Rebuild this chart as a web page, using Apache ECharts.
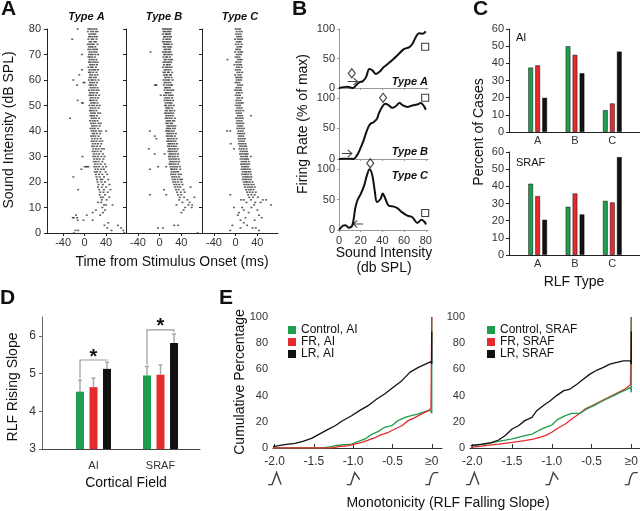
<!DOCTYPE html>
<html>
<head>
<meta charset="utf-8">
<script src="https://cdn.jsdelivr.net/npm/echarts@6/dist/echarts.min.js"></script>
<style>
  html, body { margin: 0; padding: 0; background: #fff; }
  #main { width: 640px; height: 511px; }
</style>
</head>
<body>
<div id="main"></div>
<script>
const FONT = '"Liberation Sans", Arial, sans-serif';
const GREEN = '#1f9e4f', RED = '#e52b2d', BLACK = '#111';

// ---- A: raster rows, [dB, spike times in ms ...]
const rasterA = [
  [80,-13,7,10,14,18,22],[79,6,12,16,21,24],[78,9,13,17,20],[77,8,11,15,19,23],
  [76,-23,7,13,16,22],[75,9,12,18,21],[74,6,10,14,17,24],[73,8,12,15,20],
  [72,7,11,16,19,23],[71,9,13,18,22],[70,-5,8,12,15,20,25],[69,7,10,14,19],
  [68,9,13,17,22],[67,8,11,16,20,24],[66,10,14,18,23],[65,7,12,15,21],
  [64,-5,9,13,17,20,25],[63,8,11,16,22],[62,-10,10,14,19,24],[61,9,12,17,21],
  [60,-21,8,13,15,20,26],[59,-2,0,10,14,18,23],[58,-14,9,12,16,21],[57,11,15,19,24],
  [56,8,13,17,22,26],[55,10,14,18,23],[54,9,12,16,21,27],[53,11,15,20,25],
  [52,-13,10,13,17,22],[51,-5,-3,12,16,19,24],[50,9,14,18,23,28],[49,11,15,20,26],
  [48,10,13,17,22],[47,12,16,19,25,29],[46,11,14,18,23],[45,-27,13,17,21,27],
  [44,10,15,19,24],[43,12,16,20,26,30],[42,14,18,22,28],[41,11,15,19,25],
  [40,13,17,21,27,31,40],[39,15,18,23,29],[38,12,16,20,26],[37,14,19,24,30],
  [36,13,17,22,28,33],[35,15,20,25,31],[34,14,18,23,29],[33,16,21,26,32,36],
  [32,15,19,24,30],[31,17,22,27,34],[30,-4,16,20,25,31,37],[29,18,23,28,35],
  [28,17,21,26,33],[27,19,24,30,38],[26,0,3,5,7,18,22,27,34,40],[25,-6,20,25,31,36],
  [24,19,23,29,39],[23,21,27,33,42],[22,-21,22,28,36],[21,23,30,33,44],
  [20,24,31,38],[19,26,34,46],[18,25,32,40],[17,-12,27,36,48],[16,29,35,43],
  [15,28,38],[14,30,34,46],[13,32,41],[12,25,31],[11,36,40,52],[10,33],
  [9,21,38],[8,15,34],[7,-16,4,29],[6,-22,-20,-14],[5,-13,-2,15],[4,44],
  [3,37,62],[2,42,68],[1,-17,-12,50,72],[0,-20,74]
];
const rasterB = [
  [80,6,9,12,15,18,21],[79,7,10,14,17,20],[78,6,11,13,16,19],[77,8,10,14,18,21],
  [76,7,12,15,19],[75,6,9,13,16,20],[74,8,11,14,17,22],[73,7,10,15,18,21],
  [72,9,12,16,19],[71,-17,6,10,13,17,20],[70,8,11,15,18,22],[69,7,12,14,19],
  [68,9,11,16,20,23],[67,7,10,14,17,21],[66,8,13,15,19],[65,6,11,14,18,22],
  [64,9,12,16,20],[63,7,10,15,17,23],[62,8,12,14,19,21],[61,10,13,17,22],
  [60,7,11,15,18,24],[59,9,12,16,20],[58,-9,-7,-6,8,13,17,21,23],[57,10,12,15,19],
  [56,9,14,18,22,25],[55,11,13,16,20],[54,2,8,12,17,21,24],[53,10,14,18,23],
  [52,9,13,16,20,25],[51,11,15,19,22],[50,10,12,17,21,26],[49,12,15,18,23],
  [48,11,14,19,22,27],[47,10,13,17,21,25],[46,12,16,20,24],[45,11,14,18,22,28],
  [44,13,16,19,24,27],[43,12,15,20,23],[42,14,17,21,25,29],[41,13,16,19,24,28],
  [40,-18,12,15,18,22,26],[39,14,17,21,25,30],[38,-9,13,16,20,23,28],[37,-6,15,18,22,26,31],
  [36,14,17,21,25,29],[35,16,19,23,27,32],[34,15,18,22,26,30],[33,-20,17,20,24,28,33],
  [32,16,19,23,27,31],[31,-9,9,18,21,25,29,34],[30,17,20,24,28,33],[29,18,22,26,30,35],
  [28,19,23,27,31,36],[27,18,21,25,29,34],[26,-3,12,20,24,28,32,37],[25,-18,21,23,27,31,38],
  [24,22,26,30,34],[23,21,25,29,35,39],[22,23,27,31,36],[21,24,28,33,38,41],
  [20,25,29,34,40],[19,27,31,36,42],[18,28,33,38,57],[17,8,30,35,44],
  [16,32,39,46],[15,-18,12,34,40],[14,37,45,64],[13,36,51],[12,42,55],
  [11,31,53,60],[10,47,59],[9,44],[8,40],[3,27,34],[2,-3,6],[0,70]
];
const rasterC = [
  [80,0,4,8],[79,2,7,11],[78,1,5,9],[77,3,6,10],[76,-1,4,8,12],[75,2,6,9],
  [74,0,5,11],[73,3,7,10],[72,1,4,8],[71,-1,5,9,12],[70,2,6,10],[69,0,3,7],
  [68,-15,4,8,11],[67,1,5,9],[66,-2,3,7,10],[65,2,6,11],[64,0,4,8],[63,3,7,12],
  [62,-1,5,9],[61,1,4,8,11],[60,2,6,10],[59,0,3,7],[58,4,8,12],[57,1,5,9],
  [56,-1,3,7,10],[55,2,6,11],[54,0,4,8],[53,3,7,12],[52,1,5,9],[51,2,6,10,13],
  [50,0,4,8],[49,3,7,11],[48,1,5,9,14],[47,2,6,10],[46,4,8,12,28],[45,1,5,9,13],
  [44,3,7,11],[43,2,6,10,14],[42,4,8,12],[41,3,7,11,15],[40,-16,-10,5,9,13],[39,4,8,12,16],
  [38,6,10,14],[37,5,9,13,17],[36,7,11,15],[35,-9,6,10,14,18],[34,8,12,16,19],[33,-3,7,11,15,20],
  [32,9,13,17,21],[31,8,12,16,19,22],[30,10,14,18,21,28],[29,9,13,17,20,23],[28,11,15,19,24],
  [27,10,14,17,21,25],[26,12,16,19,23],[25,11,15,18,22,26],[24,13,17,20,24,27],
  [23,12,16,19,23,28],[22,14,18,21,25,29],[21,13,17,20,24,28],[20,15,19,22,26,31],
  [19,16,20,24,29,33],[18,17,22,26,30,35],[17,19,24,28,33],[16,21,26,31,37],
  [15,-10,23,29,35],[14,25,32,41],[13,10,15,28,50,56],[12,20,36,46],[11,34,65],
  [10,-3,12,29],[9,15,40],[8,6,24],[7,4,43],[6,18,48],[5,9,35],[4,15],
  [3,-6,21],[2,9,31,37],[1,-10,43]
];
const rasterTicks = [-40, 0, 40];
const rasterRanges = [[-70, 77], [-62, 78], [-62, 78]];
const rasterTitles = ['Type A', 'Type B', 'Type C'];

// ---- B: rate-level functions, [dB SPL, % of max]
const rlfA = [[0,0],[4.3,1.5],[7.4,2],[10.5,1],[13,0],[15,3],[18.6,9.6],[21.7,11.3],[24.8,18],
  [28,32],[31,29.4],[34,23.7],[37.5,27.7],[41,35],[45.6,41.8],[50.2,49.2],[55,57.6],
  [59.8,66],[64.5,69],[67.6,74.6],[70.7,86],[73.8,93],[77,91.8],[80,96]];
const rlfB = [[0,0],[4,0.5],[8,0.5],[13.3,0],[16.4,5.5],[19.5,16.4],[22.6,30],[25.7,46.5],
  [28.8,57.4],[31.9,60],[35,65.6],[36.6,74],[39.7,85],[42.8,90.2],[45.9,87.5],[49,83.6],
  [52,85.8],[55.8,91.3],[58.9,87.5],[62.9,85],[67.6,87.5],[72,89],[75.3,91.3],[77.8,87.5],[80,80.5]];
const rlfC = [[0,0],[3.6,7],[6,8],[9,3.9],[11.8,6],[13.3,15.6],[14.9,35],[17,49],[20.2,60],
  [23.3,74],[25.7,90],[28.2,100],[30.7,90],[32.9,65],[35,46],[38.2,51],[40.3,60],[42.8,51],
  [45.9,40],[50.6,38.5],[53.7,36],[58.3,29],[63,23.6],[67.6,21],[72.3,11.7],[76,16.7],[79.1,12.8],[80,9]];
const rlfPeak = [[11.8, 25], [40.6, 100], [28.8, 110]];
const rlfMax = [[79.4, 70], [79.4, 100], [79.4, 28]];
const rlfOnset = [[12.5, 11], [7.2, 9], [17.7, 10]];
const rlfOnsetDir = ['right', 'right', 'left'];
const rlfTicks = [0, 20, 40, 60, 80];

// ---- C: percent of cases by RLF type
const rlfTypes = ['A', 'B', 'C'];
const aiControl = [37.6, 50, 12.8];
const aiFR = [38.9, 45, 16.7];
const aiLR = [20, 34.3, 46.9];
const srafControl = [41.6, 28.2, 31.6];
const srafFR = [34.4, 35.9, 30.7];
const srafLR = [20.6, 23.7, 57.1];

// ---- D: RLF rising slope (bar top, error bar top)
const fields = ['AI', 'SRAF'];
const riseControl = [4.52, 4.95];
const riseFR = [4.64, 4.97];
const riseLR = [5.125, 5.81];
const riseControlErr = [4.83, 5.19];
const riseFRErr = [4.88, 5.23];
const riseLRErr = [5.30, 6.05];
const sigLevel = [5.36, 6.16];

// ---- E: cumulative percentage vs RLF falling slope
const eAIControl = [[-2.02,0],[-1.40,0],[-1.30,0.8],[-1.23,1.8],[-1.15,2.3],[-1.02,3],[-0.94,4.8],
  [-0.85,6.9],[-0.77,10.2],[-0.68,12.7],[-0.60,15.8],[-0.51,17],[-0.43,20.9],[-0.34,23.4],
  [-0.26,24.7],[-0.17,26],[-0.09,27.7],[-0.02,29],[0,26.5],[0,100]];
const eAIFR = [[-2.02,0],[-1.27,0],[-1.19,1],[-1.06,1.8],[-0.98,3],[-0.89,4.3],[-0.81,6],
  [-0.72,8],[-0.64,10.2],[-0.55,12],[-0.47,14.5],[-0.38,17],[-0.30,20.9],[-0.21,23.4],
  [-0.13,26],[-0.04,28.5],[-0.01,30.5],[0,100]];
const eAILR = [[-2.02,1],[-1.87,2.5],[-1.74,3.5],[-1.64,5],[-1.53,7.3],[-1.43,10.6],[-1.32,14.2],
  [-1.23,17],[-1.13,21],[-1.02,24.6],[-0.92,28.5],[-0.81,32.3],[-0.70,37.4],[-0.60,41.2],
  [-0.49,46.3],[-0.38,51.4],[-0.28,57.7],[-0.17,61.5],[-0.08,64],[-0.01,66],[0,64],[0,89]];
const eSRAFControl = [[-2.02,1.8],[-1.84,3],[-1.67,5],[-1.50,6.9],[-1.34,9.4],[-1.25,10.6],
  [-1.17,13.2],[-1.08,15.8],[-1.00,17.5],[-0.92,22.1],[-0.83,24.7],[-0.75,26.5],[-0.64,26.5],
  [-0.56,29.8],[-0.47,32.3],[-0.39,34.9],[-0.31,37.4],[-0.22,40],[-0.14,42.5],[-0.06,44.6],
  [-0.01,46.3],[0,42.5],[0,100]];
const eSRAFFR = [[-2.02,0.5],[-1.84,1.8],[-1.67,3],[-1.50,4.3],[-1.34,5.6],[-1.22,6.9],
  [-1.08,9.4],[-1.00,12],[-0.92,15.3],[-0.83,18.3],[-0.75,22.1],[-0.66,26],[-0.58,29.8],
  [-0.49,32.3],[-0.41,34.9],[-0.33,37.4],[-0.24,40],[-0.16,42.5],[-0.08,45],[-0.01,48.3],[0,100]];
const eSRAFLR = [[-2.02,1.8],[-1.88,3],[-1.76,4.1],[-1.67,6.1],[-1.59,9.4],[-1.50,14.5],
  [-1.42,17],[-1.34,20.9],[-1.25,23.4],[-1.19,28.5],[-1.11,32.3],[-1.02,36.1],[-0.94,40],
  [-0.85,43.8],[-0.77,45],[-0.68,48.8],[-0.60,52.6],[-0.52,56.4],[-0.43,59.5],[-0.35,61.5],
  [-0.27,64],[-0.18,65.3],[-0.10,66.5],[-0.01,66.5],[0,64],[0,89]];
const eTicks = [-2, -1.5, -1, -0.5, 0];
const eIcons = [[-2, -23.4, 'peak'], [-1, -23.4, 'part'], [0, -23.4, 'mono']];

const iconPaths = {
  peak: 'path://M0,12L4,12L8.5,0L13,12',
  part: 'path://M0,12L4,12L8,0L13,7',
  mono: 'path://M0,12L4,12Q6,1 9,0.5L13,0.5'
};

const chart = echarts.init(document.getElementById('main'));

const lbl = (extra) => Object.assign({fontFamily: FONT, fontSize: 11, color: '#333'}, extra);
const line = (color) => ({show: true, onZero: false, lineStyle: {color: color, width: 1}});
const noSplit = {show: false};

const grids = [
  {left: 47, top: 29, width: 79, height: 204},
  {left: 126, top: 29, width: 76, height: 204},
  {left: 202, top: 29, width: 76, height: 204},
  {left: 339, top: 29, width: 89, height: 59},
  {left: 339, top: 88, width: 89, height: 71},
  {left: 339, top: 159, width: 89, height: 71},
  {left: 509, top: 29, width: 131, height: 103},
  {left: 519, top: 29, width: 112, height: 103},
  {left: 509, top: 152, width: 131, height: 103},
  {left: 519, top: 152, width: 112, height: 103},
  {left: 42, top: 317, width: 158, height: 132},
  {left: 60, top: 317, width: 134, height: 132},
  {left: 273, top: 317, width: 169, height: 131},
  {left: 470, top: 317, width: 170, height: 131}
].map(g => Object.assign({outerBoundsMode: 'none', containLabel: false}, g));

const xAxes = [], yAxes = [];
// A
rasterRanges.forEach((r, i) => {
  xAxes.push({gridIndex: i, type: 'value', min: r[0], max: r[1], axisLine: line('#222'),
    axisTick: {customValues: rasterTicks, length: 3, lineStyle: {color: '#222'}},
    axisLabel: lbl({customValues: rasterTicks, margin: 4}), splitLine: noSplit});
  yAxes.push({gridIndex: i, type: 'value', min: 0, max: 80, interval: 10, axisLine: line('#222'),
    axisTick: {length: 3, lineStyle: {color: '#222'}},
    axisLabel: lbl({show: i === 0, margin: 6}), splitLine: noSplit});
});
// B
[100, 116, 117].forEach((m, k) => {
  const gi = 3 + k;
  xAxes.push({gridIndex: gi, type: 'value', min: 0, max: 82, axisLine: line('#999'),
    axisTick: {customValues: rlfTicks, length: 2, lineStyle: {color: '#999'}},
    axisLabel: lbl({show: k === 2, customValues: rlfTicks, margin: 5}), splitLine: noSplit});
  yAxes.push({gridIndex: gi, type: 'value', min: 0, max: m, axisLine: line('#999'),
    axisTick: {customValues: [0, 50, 100], length: 2, lineStyle: {color: '#999'}},
    axisLabel: lbl({customValues: [0, 50, 100], margin: 4}), splitLine: noSplit});
});
// C (frame + bars, twice)
[6, 8].forEach(gi => {
  xAxes.push({gridIndex: gi, type: 'value', min: 0, max: 1, axisLine: line('#222'),
    axisTick: {show: false}, axisLabel: {show: false}, splitLine: noSplit});
  yAxes.push({gridIndex: gi, type: 'value', min: 0, max: 60, interval: 10, axisLine: line('#222'),
    axisTick: {length: 3, lineStyle: {color: '#222'}}, axisLabel: lbl({margin: 5}), splitLine: noSplit});
  xAxes.push({gridIndex: gi + 1, type: 'category', data: rlfTypes, axisLine: {show: false},
    axisTick: {show: false}, axisLabel: lbl({margin: 3}), splitLine: noSplit});
  yAxes.push({gridIndex: gi + 1, type: 'value', min: 0, max: 60, show: false});
});
// D
xAxes.push({gridIndex: 10, type: 'value', min: 0, max: 1, axisLine: line('#444'),
  axisTick: {show: false}, axisLabel: {show: false}, splitLine: noSplit});
yAxes.push({gridIndex: 10, type: 'value', min: 3, max: 6.5, axisLine: line('#666'),
  axisTick: {customValues: [3, 4, 5, 6], length: 3, lineStyle: {color: '#666'}},
  axisLabel: lbl({customValues: [3, 4, 5, 6], margin: 6, fontSize: 12}), splitLine: noSplit});
xAxes.push({gridIndex: 11, type: 'category', data: fields, axisLine: {show: false},
  axisTick: {show: false}, axisLabel: lbl({margin: 11}), splitLine: noSplit});
yAxes.push({gridIndex: 11, type: 'value', min: 3, max: 6.5, show: false});
// E
[[-2.02, 0.13], [-2.03, 0.11]].forEach((r, k) => {
  const gi = 12 + k;
  xAxes.push({gridIndex: gi, type: 'value', min: r[0], max: r[1], axisLine: line('#333'),
    axisTick: {inside: true, length: 4, customValues: eTicks, lineStyle: {color: '#333'}},
    axisLabel: lbl({customValues: eTicks, margin: 8, fontSize: 12,
      formatter: v => (v === 0 ? '\u22650' : v.toFixed(1))}), splitLine: noSplit});
  yAxes.push({gridIndex: gi, type: 'value', min: 0, max: 100, interval: 20,
    axisLine: {show: false}, axisTick: {show: false}, axisLabel: lbl({margin: 5}), splitLine: noSplit});
});

const series = [];
// A rasters
[rasterA, rasterB, rasterC].forEach((rows, i) => {
  series.push({type: 'scatter', xAxisIndex: i, yAxisIndex: i, symbol: 'rect', symbolSize: [2, 1.5],
    itemStyle: {color: '#333'}, silent: true,
    data: rows.flatMap(r => r.slice(1).map(t => [t, r[0]]))});
});
// B curves and markers
const arrows = {
  right: 'path://M0,4L10,4M6,0L10,4L6,8',
  left: 'path://M10,4L0,4M4,0L0,4L4,8'
};
[rlfA, rlfB, rlfC].forEach((d, k) => {
  const gi = 3 + k;
  series.push({type: 'line', xAxisIndex: gi, yAxisIndex: gi, data: d, smooth: 0.35, symbol: 'none',
    lineStyle: {color: BLACK, width: 2}, silent: true});
  series.push({type: 'scatter', xAxisIndex: gi, yAxisIndex: gi, silent: true,
    itemStyle: {color: '#fff', borderColor: BLACK, borderWidth: 1.1},
    data: [
      {value: rlfPeak[k], symbol: 'diamond', symbolSize: [7, 9]},
      {value: rlfMax[k], symbol: 'rect', symbolSize: 7},
      {value: rlfOnset[k], symbol: arrows[rlfOnsetDir[k]], symbolSize: [10, 7],
        itemStyle: {color: 'none', borderColor: BLACK, borderWidth: 1.1}}
    ]});
});
// C bars
const barStyle = (c) => ({color: c, borderColor: 'rgba(0,0,0,0.6)', borderWidth: 0.8});
[[7, aiControl, aiFR, aiLR], [9, srafControl, srafFR, srafLR]].forEach(([gi, a, b, c]) => {
  [[a, GREEN], [b, RED], [c, BLACK]].forEach(([vals, col]) => {
    series.push({type: 'bar', xAxisIndex: gi, yAxisIndex: gi, data: vals, barWidth: 5,
      barGap: '40%', itemStyle: barStyle(col), silent: true});
  });
});
// D bars
[[riseControl, GREEN], [riseFR, RED], [riseLR, BLACK]].forEach(([vals, col]) => {
  series.push({type: 'bar', xAxisIndex: 11, yAxisIndex: 11, data: vals, barWidth: 8,
    barGap: '69%', itemStyle: {color: col}, silent: true});
});
const BAR_STEP = 13.5;
const errData = [];
[[riseControl, riseControlErr, -1], [riseFR, riseFRErr, 0], [riseLR, riseLRErr, 1]].forEach(([v, e, o]) => {
  v.forEach((val, i) => errData.push([i, val, e[i], o]));
});
series.push({type: 'custom', xAxisIndex: 11, yAxisIndex: 11, data: errData, silent: true, clip: false,
  renderItem: (params, api) => {
    const base = api.coord([api.value(0), api.value(1)]);
    const top = api.coord([api.value(0), api.value(2)]);
    const x = base[0] + api.value(3) * BAR_STEP;
    const st = {stroke: '#aaa', lineWidth: 1.5};
    return {type: 'group', children: [
      {type: 'line', shape: {x1: x, y1: base[1], x2: x, y2: top[1]}, style: st},
      {type: 'line', shape: {x1: x - 2, y1: top[1], x2: x + 2, y2: top[1]}, style: st}
    ]};
  }});
series.push({type: 'custom', xAxisIndex: 11, yAxisIndex: 11, silent: true, clip: false,
  data: fields.map((f, i) => [i, sigLevel[i], riseControlErr[i], riseLRErr[i]]),
  renderItem: (params, api) => {
    const lv = api.coord([api.value(0), api.value(1)]);
    const l = api.coord([api.value(0), api.value(2)]);
    const r = api.coord([api.value(0), api.value(3)]);
    const x1 = lv[0] - BAR_STEP, x2 = lv[0] + BAR_STEP;
    return {type: 'group', children: [
      {type: 'polyline', shape: {points: [[x1, l[1] - 2], [x1, lv[1]], [x2, lv[1]], [x2, r[1] - 2]]},
        style: {stroke: '#999', lineWidth: 1.2, fill: null}},
      {type: 'text', x: lv[0], y: lv[1] - 3,
        style: {text: '*', font: 'bold 20px ' + FONT, fill: '#111', align: 'center', verticalAlign: 'middle'}}
    ]};
  }});
// E curves
const eLine = (name, gi, data, color) => ({name, type: 'line', xAxisIndex: gi, yAxisIndex: gi, data,
  symbol: 'none', lineStyle: {color, width: 1.3}, itemStyle: {color}, silent: true});
series.push(eLine('Control, AI', 12, eAIControl, GREEN));
series.push(eLine('FR, AI', 12, eAIFR, RED));
series.push(eLine('LR, AI', 12, eAILR, BLACK));
series.push(eLine('FR, SRAF', 13, eSRAFFR, RED));
series.push(eLine('Control, SRAF', 13, eSRAFControl, GREEN));
series.push(eLine('LR, SRAF', 13, eSRAFLR, BLACK));
[12, 13].forEach(gi => {
  series.push({type: 'scatter', xAxisIndex: gi, yAxisIndex: gi, clip: false, silent: true,
    symbolSize: [13, 12], itemStyle: {color: 'none', borderColor: BLACK, borderWidth: 1.4},
    data: eIcons.map(d => ({value: [d[0], d[1]], symbol: iconPaths[d[2]]}))});
});

const txt = (text, x, y, size, opts) => Object.assign({
  type: 'text', x, y, silent: true,
  style: {text, font: (opts && opts.weight ? opts.weight + ' ' : '') + size + 'px ' + FONT,
    fill: '#111', align: (opts && opts.align) || 'center', verticalAlign: 'middle'}
}, opts && opts.rot ? {rotation: Math.PI / 2} : {});

const graphic = [
  txt('A', 1, 9, 21, {weight: 'bold', align: 'left'}),
  txt('B', 292, 9, 21, {weight: 'bold', align: 'left'}),
  txt('C', 473, 9, 21, {weight: 'bold', align: 'left'}),
  txt('D', 0, 298, 21, {weight: 'bold', align: 'left'}),
  txt('E', 219, 298, 21, {weight: 'bold', align: 'left'}),
  txt(rasterTitles[0], 86.5, 17, 11, {weight: 'bold italic'}),
  txt(rasterTitles[1], 164, 17, 11, {weight: 'bold italic'}),
  txt(rasterTitles[2], 240, 17, 11, {weight: 'bold italic'}),
  txt('Sound Intensity (dB SPL)', 9, 130, 14, {rot: true}),
  txt('Time from Stimulus Onset (ms)', 172, 262, 14),
  txt('Type A', 428, 82, 11, {weight: 'bold italic', align: 'right'}),
  txt('Type B', 428, 152, 11, {weight: 'bold italic', align: 'right'}),
  txt('Type C', 428, 176, 11, {weight: 'bold italic', align: 'right'}),
  txt('Firing Rate (% of max)', 303, 124, 14, {rot: true}),
  txt('Sound Intensity', 384, 253, 14),
  txt('(db SPL)', 384, 268, 14),
  txt('AI', 516, 38, 11, {align: 'left'}),
  txt('SRAF', 516, 163, 11, {align: 'left'}),
  txt('Percent of Cases', 479, 132, 14, {rot: true}),
  txt('RLF Type', 574, 282, 14),
  txt('RLF Rising Slope', 13, 387, 14, {rot: true}),
  txt('Cortical Field', 126, 483, 14),
  txt('Cumulative Percentage', 240, 382, 14, {rot: true}),
  txt('Monotonicity (RLF Falling Slope)', 448, 503, 14)
];

const legendBase = {orient: 'vertical', icon: 'rect', itemWidth: 8, itemHeight: 8, itemGap: 0,
  selectedMode: false, textStyle: {fontFamily: FONT, fontSize: 12, color: '#111'}};

chart.setOption({
  animation: false,
  backgroundColor: '#fff',
  textStyle: {fontFamily: FONT},
  grid: grids,
  xAxis: xAxes,
  yAxis: yAxes,
  legend: [
    Object.assign({left: 283, top: 319, data: ['Control, AI', 'FR, AI', 'LR, AI']}, legendBase),
    Object.assign({left: 482, top: 319, data: ['Control, SRAF', 'FR, SRAF', 'LR, SRAF']}, legendBase)
  ],
  series: series,
  graphic: graphic
});
</script>
</body>
</html>
